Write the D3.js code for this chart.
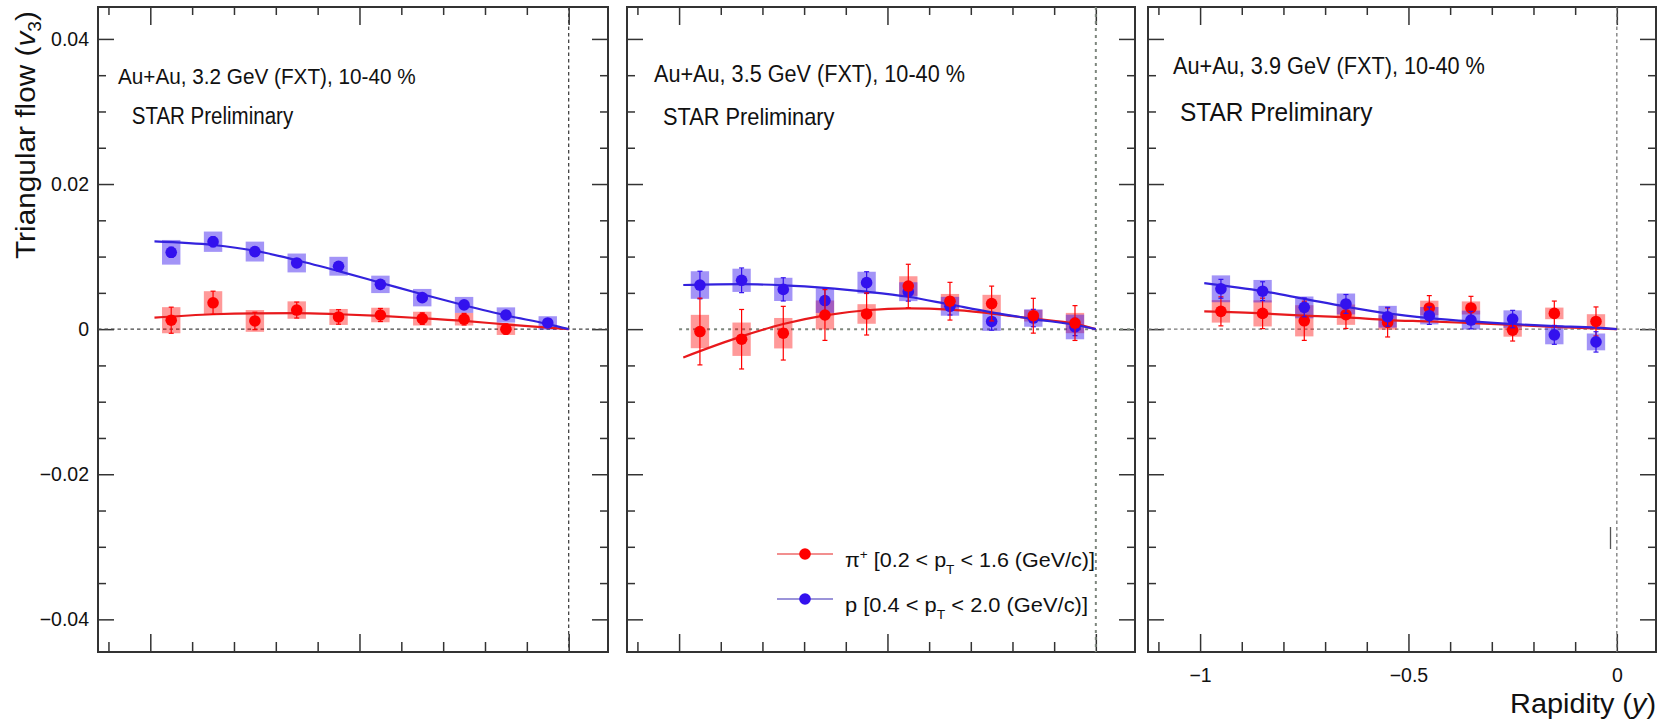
<!DOCTYPE html>
<html>
<head>
<meta charset="utf-8">
<script src="https://cdn.jsdelivr.net/npm/d3@7"></script>
<style>
  body { margin: 0; background: #fff; }
  svg { display: block; font-family: "Liberation Sans", Arial, Helvetica, sans-serif; }
</style>
</head>
<body>
<svg id="chart" width="1671" height="721"></svg>
<script>
// Rapidity bin centres (same bins for every energy)
const rapidity = [-0.95, -0.85, -0.75, -0.65, -0.55, -0.45, -0.35, -0.25, -0.15, -0.05];
// Points
const fitRapidity = [-0.99, -0.85, -0.75, -0.65, -0.55, -0.45, -0.35, -0.25, -0.15, -0.05, 0];

// 3.2 GeV
const pion32 = [0.00123, 0.00363, 0.00113, 0.00263, 0.00168, 0.00195, 0.00145, 0.00137, 0.00000, null];
const pion32Stat = [0.0018, 0.0016, 0.0012, 0.0011, 0.0010, 0.0009, 0.0008, 0.0008, 0.0007, null];
const pion32Sys = [0.0018, 0.0016, 0.0015, 0.0012, 0.0011, 0.0010, 0.00095, 0.00087, 0.0008, null];
const proton32 = [0.01059, 0.01205, 0.01069, 0.00912, 0.00867, 0.00617, 0.00434, 0.00334, 0.00195, 0.00085];
const proton32Stat = [0.0007, 0.0007, 0.0006, 0.0006, 0.0006, 0.0005, 0.0005, 0.0005, 0.0005, 0.0004];
const proton32Sys = [0.0017, 0.0014, 0.00137, 0.0013, 0.0013, 0.0012, 0.0012, 0.0011, 0.00105, 0.00093];
const pion32Fit = [0.00158, 0.00205, 0.00218, 0.0022, 0.00205, 0.00182, 0.0015, 0.00113, 0.00065, 0.0002, 0];
const proton32Fit = [0.0121, 0.0116, 0.0108, 0.0095, 0.0080, 0.0064, 0.0048, 0.0033, 0.0019, 0.0007, 0];

// 3.5 GeV
const pion35 = [-0.00033, -0.00139, -0.00056, 0.00195, 0.00209, 0.00594, 0.00385, 0.00353, 0.00185, 0.00084];
const pion35Stat = [0.0046, 0.0041, 0.0037, 0.0035, 0.0029, 0.0030, 0.0026, 0.0024, 0.0024, 0.0024];
const pion35Sys = [0.0023, 0.0023, 0.0021, 0.0020, 0.00135, 0.00135, 0.0010, 0.0012, 0.0008, 0.0014];
const proton35 = [0.00608, 0.00673, 0.00548, 0.00394, 0.00641, 0.00516, 0.00315, 0.00106, 0.00153, 0.0003];
const proton35Stat = [0.0019, 0.0017, 0.0016, 0.0017, 0.0015, 0.0013, 0.0012, 0.0012, 0.0012, 0.0012];
const proton35Sys = [0.0019, 0.0016, 0.0016, 0.0017, 0.0015, 0.0013, 0.0013, 0.0013, 0.0012, 0.0017];
const pion35Fit = [-0.0039, -0.0010, 0.0007, 0.0019, 0.0026, 0.00285, 0.0027, 0.00215, 0.00144, 0.00072, 0];
const proton35Fit = [0.00608, 0.0062, 0.00604, 0.0057, 0.00516, 0.00446, 0.00339, 0.00232, 0.00139, 0.0006, 0];

// 3.9 GeV
const pion39 = [0.00245, 0.00217, 0.00115, 0.00199, 0.00092, 0.00292, 0.00292, -0.00014, 0.00217, 0.00106];
const pion39Stat = [0.0020, 0.0021, 0.0027, 0.0019, 0.0020, 0.0017, 0.0016, 0.0015, 0.0017, 0.0020];
const pion39Sys = [0.00155, 0.0018, 0.00215, 0.0014, 0.0010, 0.0010, 0.0009, 0.0009, 0.0008, 0.0010];
const proton39 = [0.00556, 0.00523, 0.0030, 0.00347, 0.00171, 0.00185, 0.00125, 0.00139, -0.00079, -0.00176];
const proton39Stat = [0.0013, 0.0013, 0.0013, 0.0013, 0.0013, 0.0012, 0.0012, 0.0012, 0.0013, 0.0014];
const proton39Sys = [0.00185, 0.00155, 0.0015, 0.00144, 0.0015, 0.0012, 0.0013, 0.0012, 0.0013, 0.00116];
const pion39Fit = [0.00245, 0.00217, 0.00185, 0.00162, 0.00125, 0.00106, 0.00083, 0.0006, 0.00032, 0.0001, 0];
const proton39Fit = [0.00634, 0.00523, 0.00417, 0.0031, 0.00217, 0.00153, 0.00106, 0.00069, 0.00042, 0.0002, 0];

// Axis ticks
const yMajor = [-0.04, -0.02, 0, 0.02, 0.04];
const yMinor = d3.range(-8, 9).map(i => i * 0.005).filter(v => !yMajor.some(m => Math.abs(m - v) < 1e-9));
const xMajor = [-1, -0.5, 0];
const xMinor = d3.range(-11, 1).map(i => i / 10).filter(v => !xMajor.some(m => Math.abs(m - v) < 1e-9));
const yTickLabels = ["\u22120.04", "\u22120.02", "0", "0.02", "0.04"];
const xTickLabels = ["\u22121", "\u22120.5", "0"];

const red = "#ff0000", blue = "#3311ee";
const frameTop = 7, frameBottom = 652;

const panels = [
  { left: 98, right: 608, energy: "3.2", pion: pion32, pionStat: pion32Stat, pionSys: pion32Sys,
    proton: proton32, protonStat: proton32Stat, protonSys: proton32Sys, pionFit: pion32Fit, protonFit: proton32Fit,
    text1: [118, 83.5, 23, 298], text2: [131.7, 124, 23, 162], zeroFrom: null, dash: "#444", protonOnTop: true },
  { left: 627, right: 1135, energy: "3.5", pion: pion35, pionStat: pion35Stat, pionSys: pion35Sys,
    proton: proton35, protonStat: proton35Stat, protonSys: proton35Sys, pionFit: pion35Fit, protonFit: proton35Fit,
    text1: [654, 82, 23, 311], text2: [663, 125, 23, 172], zeroFrom: -1, dash: "#7d867d", protonOnTop: false },
  { left: 1148, right: 1656, energy: "3.9", pion: pion39, pionStat: pion39Stat, pionSys: pion39Sys,
    proton: proton39, protonStat: proton39Stat, protonSys: proton39Sys, pionFit: pion39Fit, protonFit: proton39Fit,
    text1: [1173, 74, 23, 312], text2: [1180, 121, 25, 193], zeroFrom: null, dash: "#777", protonOnTop: true }
];

const svg = d3.select("#chart");

// text squeezed/stretched horizontally to the width seen in the picture
function addText(parent, x, y, size, width, build, anchor = "start", rotate = 0) {
  const g = parent.append("g");
  const t = g.append("text").attr("font-size", size).attr("text-anchor", anchor).attr("fill", "#111");
  build(t);
  const w = t.node().getBBox().width;
  const sx = width ? width / w : 1;
  g.attr("transform", `translate(${x},${y})` + (rotate ? ` rotate(${rotate})` : "") + ` scale(${sx},1)`);
  return g;
}

panels.forEach((p, pi) => {
  const x = d3.scaleLinear().domain([-1.125, 0.094]).range([p.left, p.right]);
  const y = d3.scaleLinear().domain([-0.0445, 0.0444]).range([frameBottom, frameTop]);
  const g = svg.append("g");

  // axes: ticks on all four sides pointing inwards
  const tickStyle = sel => {
    sel.select(".domain").remove();
    sel.selectAll(".tick line").attr("stroke", "#333").attr("stroke-width", 1.5);
    sel.selectAll(".tick text").attr("fill", "#111").attr("font-size", 19.5).attr("font-family", "Liberation Sans, Arial, sans-serif");
  };
  g.append("g").attr("transform", `translate(${p.left},0)`)
    .call(d3.axisLeft(y).tickValues(yMajor).tickSize(-16).tickPadding(9)
      .tickFormat(pi === 0 ? (d, i) => yTickLabels[i] : ""))
    .call(tickStyle);
  g.append("g").attr("transform", `translate(${p.left},0)`)
    .call(d3.axisLeft(y).tickValues(yMinor).tickSize(-8).tickFormat("")).call(tickStyle);
  g.append("g").attr("transform", `translate(${p.right},0)`)
    .call(d3.axisRight(y).tickValues(yMajor).tickSize(-16).tickFormat("")).call(tickStyle);
  g.append("g").attr("transform", `translate(${p.right},0)`)
    .call(d3.axisRight(y).tickValues(yMinor).tickSize(-8).tickFormat("")).call(tickStyle);
  g.append("g").attr("transform", `translate(0,${frameBottom})`)
    .call(d3.axisBottom(x).tickValues(xMajor).tickSize(-18).tickPadding(16)
      .tickFormat(pi === 2 ? (d, i) => xTickLabels[i] : ""))
    .call(tickStyle);
  g.append("g").attr("transform", `translate(0,${frameBottom})`)
    .call(d3.axisBottom(x).tickValues(xMinor).tickSize(-10).tickFormat("")).call(tickStyle);
  g.append("g").attr("transform", `translate(0,${frameTop})`)
    .call(d3.axisTop(x).tickValues(xMajor).tickSize(-18).tickFormat("")).call(tickStyle);
  g.append("g").attr("transform", `translate(0,${frameTop})`)
    .call(d3.axisTop(x).tickValues(xMinor).tickSize(-8).tickFormat("")).call(tickStyle);

  // frame
  g.append("rect").attr("x", p.left).attr("y", frameTop)
    .attr("width", p.right - p.left).attr("height", frameBottom - frameTop)
    .attr("fill", "none").attr("stroke", "#333").attr("stroke-width", 2);

  // zero lines
  g.append("line")
    .attr("x1", p.zeroFrom === null ? p.left : x(p.zeroFrom)).attr("x2", p.right)
    .attr("y1", y(0)).attr("y2", y(0))
    .attr("stroke", p.dash).attr("stroke-width", pi === 1 ? 2 : 1.3)
    .attr("stroke-dasharray", pi === 1 ? "3,4" : "3.5,3");
  g.append("line")
    .attr("x1", x(0)).attr("x2", x(0)).attr("y1", frameTop).attr("y2", frameBottom)
    .attr("stroke", p.dash).attr("stroke-width", pi === 1 ? 2 : 1.3)
    .attr("stroke-dasharray", pi === 1 ? "3,4" : "3.5,3");

  const series = [
    { v: p.pion, stat: p.pionStat, sys: p.pionSys, fit: p.pionFit, color: red, boxOpacity: 0.4, line: "#e8191c" },
    { v: p.proton, stat: p.protonStat, sys: p.protonSys, fit: p.protonFit, color: blue, boxOpacity: 0.45, line: "#3322dd" }
  ];
  const pts = s => rapidity.map((r, i) => ({ r, v: s.v[i], stat: s.stat[i], sys: s.sys[i] })).filter(d => d.v !== null);

  // systematic boxes
  series.forEach(s => {
    g.append("g").selectAll("rect").data(pts(s)).join("rect")
      .attr("x", d => x(d.r - 0.022)).attr("width", d => x(d.r + 0.022) - x(d.r - 0.022))
      .attr("y", d => y(d.v + d.sys)).attr("height", d => y(d.v - d.sys) - y(d.v + d.sys))
      .attr("fill", s.color).attr("fill-opacity", s.boxOpacity);
  });

  // fit curves
  series.forEach(s => {
    g.append("path")
      .datum(fitRapidity.map((r, i) => [r, s.fit[i]]))
      .attr("d", d3.line().x(d => x(d[0])).y(d => y(d[1])).curve(d3.curveMonotoneX))
      .attr("fill", "none").attr("stroke", s.line).attr("stroke-width", 2.2);
  });

  // statistical error bars + markers
  const order = p.protonOnTop ? series : [series[1], series[0]];
  order.forEach(s => {
    const eg = g.append("g").attr("stroke", s.color).attr("stroke-width", 1.2);
    pts(s).forEach(d => {
      eg.append("line").attr("x1", x(d.r)).attr("x2", x(d.r)).attr("y1", y(d.v + d.stat)).attr("y2", y(d.v - d.stat));
      eg.append("line").attr("x1", x(d.r) - 2.5).attr("x2", x(d.r) + 2.5).attr("y1", y(d.v + d.stat)).attr("y2", y(d.v + d.stat));
      eg.append("line").attr("x1", x(d.r) - 2.5).attr("x2", x(d.r) + 2.5).attr("y1", y(d.v - d.stat)).attr("y2", y(d.v - d.stat));
    });
    g.append("g").selectAll("circle").data(pts(s)).join("circle")
      .attr("cx", d => x(d.r)).attr("cy", d => y(d.v)).attr("r", 5.8).attr("fill", s.color);
  });

  // labels
  addText(g, p.text1[0], p.text1[1], p.text1[2], p.text1[3],
    t => t.text(`Au+Au, ${p.energy} GeV (FXT), 10-40 %`));
  addText(g, p.text2[0], p.text2[1], p.text2[2], p.text2[3],
    t => t.text("STAR Preliminary"));
});

// leftover mark in the third panel
svg.append("line").attr("x1", 1610.5).attr("x2", 1610.5).attr("y1", 527).attr("y2", 549)
  .attr("stroke", "#555").attr("stroke-width", 1.3);

// legend (second panel)
const legend = [
  { name: "pi", y: 554, base: 567, width: 250, color: red, line: "#ee6a6a" },
  { name: "p", y: 599, base: 611.5, width: 243, color: blue, line: "#7a70cc" }
];
legend.forEach(l => {
  svg.append("line").attr("x1", 777).attr("x2", 833).attr("y1", l.y).attr("y2", l.y)
    .attr("stroke", l.line).attr("stroke-width", 1.6);
  svg.append("circle").attr("cx", 805).attr("cy", l.y).attr("r", 5.8).attr("fill", l.color);
  addText(svg, 845, l.base, 20.5, l.width, t => {
    if (l.name === "pi") {
      t.append("tspan").text("\u03c0");
      t.append("tspan").attr("font-size", 13).attr("dy", -8).text("+");
      t.append("tspan").attr("dy", 8).text(" [0.2 < p");
      t.append("tspan").attr("font-size", 13).attr("dy", 7).text("T");
      t.append("tspan").attr("dy", -7).text(" < 1.6 (GeV/c)]");
    } else {
      t.append("tspan").text("p [0.4 < p");
      t.append("tspan").attr("font-size", 13).attr("dy", 7).text("T");
      t.append("tspan").attr("dy", -7).text(" < 2.0 (GeV/c)]");
    }
  });
});

// axis titles
addText(svg, 35, 259, 28, 248, t => {
  t.append("tspan").text("Triangular flow (");
  t.append("tspan").attr("font-style", "italic").text("v");
  t.append("tspan").attr("font-size", 18).attr("dy", 6).text("3");
  t.append("tspan").attr("dy", -6).text(")");
}, "start", -90);

addText(svg, 1656, 713, 28, 146, t => {
  t.append("tspan").text("Rapidity (");
  t.append("tspan").attr("font-style", "italic").text("y");
  t.append("tspan").text(")");
}, "end");
</script>
</body>
</html>
